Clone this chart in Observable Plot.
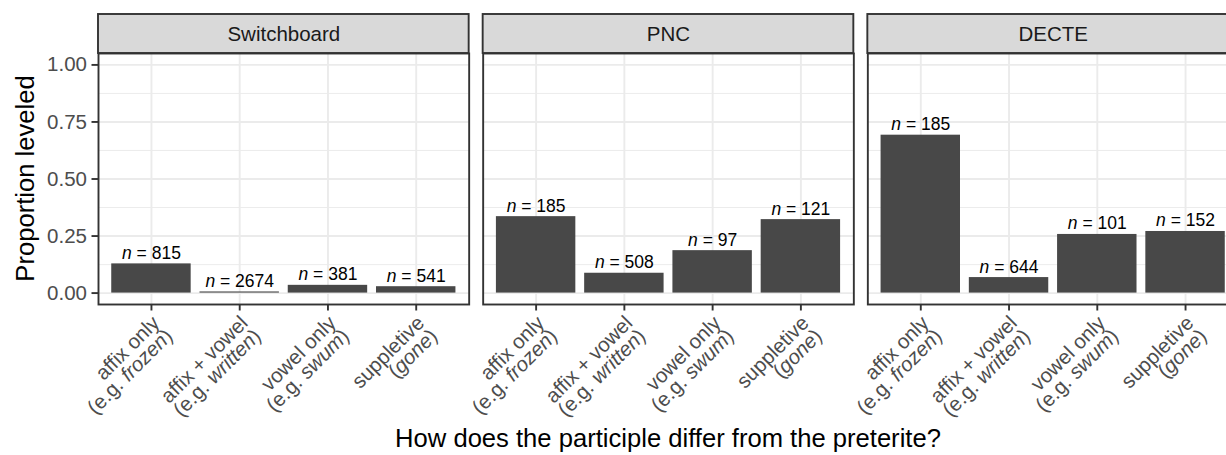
<!DOCTYPE html>
<html>
<head>
<meta charset="utf-8">
<script src="https://cdn.jsdelivr.net/npm/d3@7"></script>
<script src="https://cdn.jsdelivr.net/npm/@observablehq/plot@0.6"></script>
<style>
  html, body { margin: 0; padding: 0; background: #fff; overflow: hidden; }
  #chart { width: 1238px; }
  #chart svg { display: block; max-width: none !important; }
</style>
</head>
<body>
<div id="chart"></div>
<script>
// Corpora (facets) and participle types (bars within each facet)
const corpora = ["Switchboard", "PNC", "DECTE"];
const categories = ["affix only", "affix + vowel", "vowel only", "suppletive"];
const categoryExamples = ["(e.g. frozen)", "(e.g. written)", "(e.g. swum)", "(gone)"];

// Proportion of tokens leveled, and number of tokens, per corpus
const switchboardProp = [0.128, 0.005, 0.034, 0.028];
const switchboardN = [815, 2674, 381, 541];
const pncProp = [0.335, 0.087, 0.186, 0.322];
const pncN = [185, 508, 97, 121];
const decteProp = [0.692, 0.068, 0.257, 0.270];
const decteN = [185, 644, 101, 152];

const yTicks = [0, 0.25, 0.5, 0.75, 1];
const yMinorTicks = [0.125, 0.375, 0.625, 0.875];
const yDomain = [-0.05, 1.05];

const xTitle = "How does the participle differ from the preterite?";
const yTitle = "Proportion leveled";

const series = {
  Switchboard: [switchboardProp, switchboardN],
  PNC: [pncProp, pncN],
  DECTE: [decteProp, decteN]
};
const rows = corpora.flatMap(corpus =>
  categories.map((category, i) => ({
    corpus,
    category,
    prop: series[corpus][0][i],
    n: series[corpus][1][i]
  }))
);
const tickText = new Map(categories.map((c, i) => [c, c + "\n" + categoryExamples[i]]));

const font = "'Liberation Sans', Arial, Helvetica, sans-serif";
const border = "#333333";
const gridColor = "#ebebeb";

const plot = Plot.plot({
  width: 1238,
  height: 455,
  marginLeft: 98,
  marginRight: 0,
  marginTop: 53,
  marginBottom: 151,
  style: {fontFamily: font, background: "#ffffff", overflow: "visible"},
  fx: {domain: corpora, paddingInner: 0.0364, paddingOuter: 0, round: false, axis: null, label: null},
  x: {domain: categories, type: "band", paddingInner: 0.1, paddingOuter: 0.15, align: 0.5, round: false, label: null},
  y: {domain: yDomain, label: null},
  marks: [
    Plot.gridY({ticks: yMinorTicks, stroke: gridColor, strokeOpacity: 1, strokeWidth: 0.95}),
    Plot.gridY({ticks: yTicks, stroke: gridColor, strokeOpacity: 1, strokeWidth: 1.9}),
    Plot.gridX({stroke: gridColor, strokeOpacity: 1, strokeWidth: 1.9}),
    Plot.barY(rows, {fx: "corpus", x: "category", y: "prop", fill: "#484848"}),
    Plot.text(rows, {
      fx: "corpus", x: "category", y: "prop",
      text: d => `n = ${d.n}`,
      lineAnchor: "bottom", dy: -5,
      fontSize: 17.5, fill: "#000000"
    }),
    Plot.frame({stroke: border, strokeWidth: 1.9}),
    // facet strips above each panel
    Plot.rect(corpora, {
      fx: d => d, y1: yDomain[1], y2: yDomain[1], insetTop: -39,
      fill: "#d9d9d9", stroke: border, strokeWidth: 1.9
    }),
    Plot.text(corpora, {
      fx: d => d, frameAnchor: "top", dy: -19.5, text: d => d,
      lineAnchor: "middle", fontSize: 20.5, fill: "#1a1a1a"
    }),
    Plot.axisY({
      ticks: yTicks, tickFormat: d => d.toFixed(2), tickSize: 6.5, tickPadding: 5,
      fontSize: 20.5, label: null, stroke: border, strokeWidth: 1.9
    }),
    Plot.axisX({
      tickSize: 6.5, tickPadding: 4, tickRotate: -45,
      textAnchor: "end", lineAnchor: "top", lineHeight: 0.9,
      fontSize: 20.5, label: null, tickFormat: d => tickText.get(d),
      stroke: border, strokeWidth: 1.9
    })
  ]
});

const svg = d3.select(plot);
const SVG_NS = "http://www.w3.org/2000/svg";

// tick label colour
svg.selectAll('g[aria-label="y-axis tick label"], g[aria-label="x-axis tick label"]')
  .attr("fill", "#4d4d4d")
  .selectAll("text").attr("fill", "#4d4d4d");

// italic example words in the category labels
svg.selectAll('g[aria-label="x-axis tick label"] tspan').each(function () {
  const m = this.textContent.match(/^(\((?:e\.g\. )?)([^)]+)(\))$/);
  if (!m) return;
  this.textContent = "";
  this.appendChild(document.createTextNode(m[1]));
  const it = document.createElementNS(SVG_NS, "tspan");
  it.setAttribute("font-style", "italic");
  it.textContent = m[2];
  this.appendChild(it);
  this.appendChild(document.createTextNode(m[3]));
});

// italic n in the sample-size labels
svg.selectAll("text").each(function () {
  const m = this.textContent.match(/^n = (\d+)$/);
  if (!m || this.querySelector("tspan")) return;
  this.textContent = "";
  const it = document.createElementNS(SVG_NS, "tspan");
  it.setAttribute("font-style", "italic");
  it.textContent = "n";
  this.appendChild(it);
  this.appendChild(document.createTextNode(" = " + m[1]));
});

// axis titles, centred on the panel area
const fxRange = plot.scale("fx").range;
const yRange = plot.scale("y").range;
svg.append("text")
  .attr("x", (fxRange[0] + fxRange[1]) / 2)
  .attr("y", 447)
  .attr("text-anchor", "middle")
  .attr("font-size", 25.6)
  .attr("font-family", font)
  .attr("fill", "#000000")
  .text(xTitle);
svg.append("text")
  .attr("transform", `translate(33.5,${(yRange[0] + yRange[1]) / 2}) rotate(-90)`)
  .attr("text-anchor", "middle")
  .attr("font-size", 25.6)
  .attr("font-family", font)
  .attr("fill", "#000000")
  .text(yTitle);

document.getElementById("chart").appendChild(plot);
</script>
</body>
</html>
